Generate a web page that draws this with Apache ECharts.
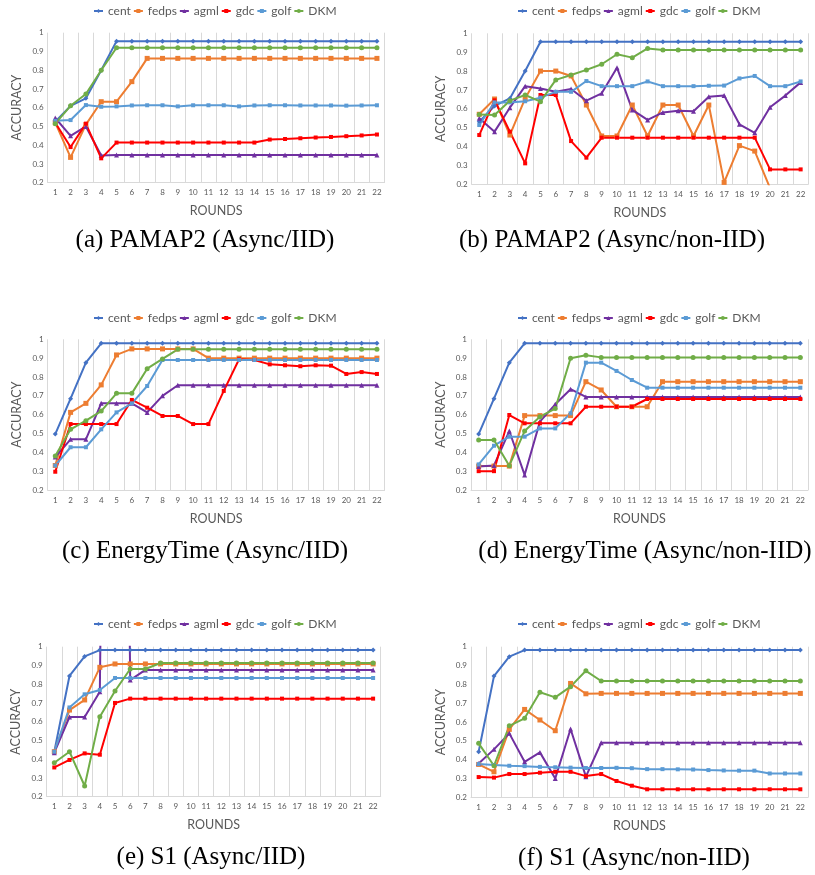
<!DOCTYPE html>
<html><head><meta charset="utf-8">
<script src="https://cdn.jsdelivr.net/npm/echarts@6/dist/echarts.min.js"></script>
<style>html,body{margin:0;padding:0;background:#fff}#c{width:815px;height:875px}</style>
</head><body><div id="c"></div>
<script>
const rounds = ['1','2','3','4','5','6','7','8','9','10','11','12','13','14','15','16','17','18','19','20','21','22'];
const seriesNames = ['cent','fedps','agml','gdc','golf','DKM'];
const captions = ['(a) PAMAP2 (Async/IID)','(b) PAMAP2 (Async/non-IID)','(c) EnergyTime (Async/IID)','(d) EnergyTime (Async/non-IID)','(e) S1 (Async/IID)','(f) S1 (Async/non-IID)'];
const yTicks = ['0.2','0.3','0.4','0.5','0.6','0.7','0.8','0.9','1'];

// (a) PAMAP2 Async/IID
const a_cent  = [0.525,0.61,0.65,0.80,0.955,0.955,0.955,0.955,0.955,0.955,0.955,0.955,0.955,0.955,0.955,0.955,0.955,0.955,0.955,0.955,0.955,0.955];
const a_fedps = [0.52,0.335,0.51,0.632,0.632,0.739,0.863,0.863,0.863,0.863,0.863,0.863,0.863,0.863,0.863,0.863,0.863,0.863,0.863,0.863,0.863,0.863];
const a_agml  = [0.545,0.45,0.50,0.345,0.348,0.348,0.348,0.348,0.348,0.348,0.348,0.348,0.348,0.348,0.348,0.348,0.348,0.348,0.348,0.348,0.348,0.348];
const a_gdc   = [0.52,0.39,0.515,0.33,0.414,0.414,0.414,0.414,0.414,0.414,0.414,0.414,0.414,0.414,0.43,0.433,0.437,0.441,0.444,0.448,0.452,0.457];
const a_golf  = [0.53,0.534,0.614,0.605,0.607,0.612,0.613,0.613,0.607,0.613,0.613,0.613,0.607,0.612,0.613,0.613,0.612,0.612,0.612,0.611,0.612,0.613];
const a_DKM   = [0.515,0.61,0.673,0.80,0.92,0.92,0.92,0.92,0.92,0.92,0.92,0.92,0.92,0.92,0.92,0.92,0.92,0.92,0.92,0.92,0.92,0.92];

// (b) PAMAP2 Async/non-IID
const b_cent  = [0.532,0.615,0.655,0.80,0.955,0.955,0.955,0.955,0.955,0.955,0.955,0.955,0.955,0.955,0.955,0.955,0.955,0.955,0.955,0.955,0.955,0.955];
const b_fedps = [0.571,0.652,0.461,0.655,0.80,0.80,0.774,0.62,0.456,0.456,0.62,0.456,0.62,0.62,0.456,0.62,0.21,0.405,0.376,0.18,0.18,0.18];
const b_agml  = [0.55,0.479,0.606,0.72,0.708,0.69,0.705,0.643,0.682,0.818,0.594,0.541,0.581,0.59,0.587,0.664,0.671,0.518,0.473,0.608,0.67,0.74];
const b_gdc   = [0.461,0.645,0.479,0.311,0.673,0.673,0.429,0.341,0.447,0.447,0.447,0.447,0.447,0.447,0.447,0.447,0.447,0.447,0.447,0.279,0.279,0.279];
const b_golf  = [0.514,0.634,0.634,0.64,0.659,0.69,0.69,0.747,0.72,0.72,0.72,0.745,0.72,0.72,0.72,0.722,0.723,0.761,0.774,0.72,0.72,0.745];
const b_DKM   = [0.57,0.567,0.643,0.673,0.638,0.753,0.779,0.806,0.836,0.889,0.871,0.92,0.912,0.912,0.912,0.912,0.912,0.912,0.912,0.912,0.912,0.912];

// (c) EnergyTime Async/IID
const c_cent  = [0.497,0.685,0.876,0.979,0.979,0.979,0.979,0.979,0.979,0.979,0.979,0.979,0.979,0.979,0.979,0.979,0.979,0.979,0.979,0.979,0.979,0.979];
const c_fedps = [0.33,0.612,0.66,0.758,0.917,0.949,0.949,0.949,0.949,0.949,0.90,0.90,0.90,0.90,0.90,0.90,0.90,0.90,0.90,0.90,0.90,0.90];
const c_agml  = [0.375,0.469,0.469,0.66,0.66,0.66,0.612,0.70,0.756,0.756,0.756,0.756,0.756,0.756,0.756,0.756,0.756,0.756,0.756,0.756,0.756,0.756];
const c_gdc   = [0.297,0.55,0.55,0.55,0.55,0.678,0.637,0.593,0.593,0.55,0.55,0.726,0.894,0.89,0.867,0.862,0.857,0.862,0.86,0.816,0.826,0.816];
const c_golf  = [0.33,0.427,0.427,0.522,0.612,0.66,0.752,0.89,0.89,0.89,0.89,0.89,0.89,0.89,0.89,0.89,0.89,0.89,0.89,0.89,0.89,0.89];
const c_DKM   = [0.38,0.522,0.568,0.619,0.713,0.713,0.844,0.896,0.947,0.947,0.947,0.947,0.947,0.947,0.947,0.947,0.947,0.947,0.947,0.947,0.947,0.947];

// (d) EnergyTime Async/non-IID
const d_cent  = [0.497,0.685,0.876,0.979,0.979,0.979,0.979,0.979,0.979,0.979,0.979,0.979,0.979,0.979,0.979,0.979,0.979,0.979,0.979,0.979,0.979,0.979];
const d_fedps = [0.327,0.327,0.327,0.595,0.595,0.595,0.595,0.775,0.731,0.642,0.642,0.642,0.775,0.775,0.775,0.775,0.775,0.775,0.775,0.775,0.775,0.775];
const d_agml  = [0.325,0.33,0.513,0.28,0.563,0.655,0.735,0.694,0.694,0.694,0.694,0.694,0.694,0.694,0.694,0.694,0.694,0.694,0.694,0.694,0.694,0.694];
const d_gdc   = [0.30,0.30,0.598,0.554,0.554,0.554,0.554,0.642,0.642,0.642,0.642,0.683,0.683,0.683,0.683,0.683,0.683,0.683,0.683,0.683,0.683,0.683];
const d_golf  = [0.336,0.435,0.483,0.483,0.527,0.527,0.607,0.876,0.876,0.832,0.784,0.743,0.743,0.743,0.743,0.743,0.743,0.743,0.743,0.743,0.743,0.743];
const d_DKM   = [0.466,0.466,0.329,0.513,0.589,0.632,0.899,0.915,0.904,0.904,0.904,0.904,0.904,0.904,0.904,0.904,0.904,0.904,0.904,0.904,0.904,0.904];

// (e) S1 Async/IID  (agml round 5 lies far above the plotted range)
const e_cent  = [0.44,0.844,0.948,0.982,0.982,0.982,0.982,0.982,0.982,0.982,0.982,0.982,0.982,0.982,0.982,0.982,0.982,0.982,0.982,0.982,0.982,0.982];
const e_fedps = [0.44,0.662,0.716,0.89,0.908,0.908,0.908,0.908,0.908,0.908,0.908,0.908,0.908,0.908,0.908,0.908,0.908,0.908,0.908,0.908,0.908,0.908];
const e_agml  = [0.435,0.625,0.625,0.76,8,0.822,0.876,0.876,0.876,0.876,0.876,0.876,0.876,0.876,0.876,0.876,0.876,0.876,0.876,0.876,0.876,0.876];
const e_gdc   = [0.356,0.396,0.431,0.424,0.70,0.723,0.723,0.723,0.723,0.723,0.723,0.723,0.723,0.723,0.723,0.723,0.723,0.723,0.723,0.723,0.723,0.723];
const e_golf  = [0.44,0.676,0.746,0.769,0.833,0.833,0.833,0.833,0.833,0.833,0.833,0.833,0.833,0.833,0.833,0.833,0.833,0.833,0.833,0.833,0.833,0.833];
const e_DKM   = [0.381,0.44,0.257,0.627,0.764,0.881,0.881,0.913,0.913,0.913,0.913,0.913,0.913,0.913,0.913,0.913,0.913,0.913,0.913,0.913,0.913,0.913];

// (f) S1 Async/non-IID
const f_cent  = [0.442,0.844,0.947,0.982,0.982,0.982,0.982,0.982,0.982,0.982,0.982,0.982,0.982,0.982,0.982,0.982,0.982,0.982,0.982,0.982,0.982,0.982];
const f_fedps = [0.375,0.336,0.561,0.667,0.611,0.554,0.805,0.75,0.752,0.752,0.752,0.752,0.752,0.752,0.752,0.752,0.752,0.752,0.752,0.752,0.752,0.752];
const f_agml  = [0.38,0.455,0.54,0.389,0.439,0.30,0.563,0.31,0.49,0.49,0.49,0.49,0.49,0.49,0.49,0.49,0.49,0.49,0.49,0.49,0.49,0.49];
const f_gdc   = [0.308,0.305,0.324,0.324,0.331,0.336,0.336,0.313,0.324,0.287,0.262,0.243,0.243,0.243,0.243,0.243,0.243,0.243,0.243,0.243,0.243,0.243];
const f_golf  = [0.377,0.372,0.368,0.366,0.362,0.36,0.358,0.356,0.356,0.357,0.355,0.35,0.35,0.349,0.348,0.345,0.343,0.342,0.342,0.327,0.327,0.327];
const f_DKM   = [0.487,0.368,0.58,0.62,0.758,0.731,0.788,0.872,0.818,0.818,0.818,0.818,0.818,0.818,0.818,0.818,0.818,0.818,0.818,0.818,0.818,0.818];

const panelData = [
  [a_cent,a_fedps,a_agml,a_gdc,a_golf,a_DKM],
  [b_cent,b_fedps,b_agml,b_gdc,b_golf,b_DKM],
  [c_cent,c_fedps,c_agml,c_gdc,c_golf,c_DKM],
  [d_cent,d_fedps,d_agml,d_gdc,d_golf,d_DKM],
  [e_cent,e_fedps,e_agml,e_gdc,e_golf,e_DKM],
  [f_cent,f_fedps,f_agml,f_gdc,f_golf,f_DKM]
];

// styling / layout
const colors  = {cent:'#4472C4', fedps:'#ED7D31', agml:'#7030A0', gdc:'#FF0000', golf:'#5B9BD5', DKM:'#70AD47'};
const symbols = {cent:'diamond', fedps:'rect', agml:'triangle', gdc:'rect', golf:'rect', DKM:'circle'};
const symSize = {cent:5, fedps:5, agml:5, gdc:4, golf:4, DKM:5};
const layout = [
  {left:47.6, top:32.7, width:337, height:150,  legX:88,  legY:0,   capX:205, capY:240},
  {left:471.6,top:33.3, width:336.7,height:151, legX:512, legY:0,   capX:612, capY:240},
  {left:47.6, top:339.3,width:337, height:150.7,legX:88,  legY:307, capX:205, capY:551},
  {left:471,  top:339.3,width:337, height:150.7,legX:512, legY:307, capX:645, capY:551},
  {left:46.7, top:646.7,width:334, height:150,  legX:88,  legY:613, capX:211, capY:857},
  {left:471,  top:646.7,width:337, height:150.7,legX:512, legY:613, capX:634, capY:858}
];
const FONT = 'Lato';
const GRAY = '#595959';

const grid=[], xAxis=[], yAxis=[], legend=[], series=[], graphic=[];
layout.forEach((L,i)=>{
  grid.push({left:L.left, top:L.top, width:L.width, height:L.height, containLabel:false});
  xAxis.push({
    type:'category', gridIndex:i, data:rounds, boundaryGap:true,
    name:'ROUNDS', nameLocation:'middle', nameGap:22,
    nameTextStyle:{fontFamily:FONT, fontSize:12.5, color:GRAY},
    axisLine:{show:true, onZero:false, lineStyle:{color:'#d9d9d9', width:1}},
    axisTick:{show:false},
    axisLabel:{interval:0, margin:6, fontFamily:FONT, fontSize:8, color:GRAY},
    splitLine:{show:true, interval:0, lineStyle:{color:'#d9d9d9', width:1}}
  });
  yAxis.push({
    type:'value', gridIndex:i, min:0.2, max:1, interval:0.1,
    name:'ACCURACY', nameLocation:'middle', nameGap:24,
    nameTextStyle:{fontFamily:FONT, fontSize:12.5, color:GRAY},
    axisLine:{show:false}, axisTick:{show:false}, splitLine:{show:false},
    axisLabel:{margin:4, fontFamily:FONT, fontSize:8, color:GRAY,
      formatter:(v)=>yTicks[Math.round((v-0.2)*10)]}
  });
  legend.push({
    left:L.legX, top:L.legY, orient:'horizontal', data:seriesNames,
    itemWidth:9, itemHeight:5, itemGap:2,
    textStyle:{fontFamily:FONT, fontSize:12, color:GRAY}
  });
  seriesNames.forEach((n,k)=>{
    series.push({
      name:n, type:'line', xAxisIndex:i, yAxisIndex:i, data:panelData[i][k],
      symbol:symbols[n], symbolSize:symSize[n], showSymbol:true, clip:true,
      itemStyle:{color:colors[n]}, lineStyle:{color:colors[n], width:2},
      emphasis:{disabled:true}, animation:false
    });
  });
  graphic.push({
    type:'text', x:L.capX, y:L.capY,
    style:{text:captions[i], fontFamily:'Liberation Serif', fontSize:25, fill:'#000',
      align:'center', verticalAlign:'middle', textAlign:'center', textVerticalAlign:'middle'}
  });
});

const chart = echarts.init(document.getElementById('c'), null, {renderer:'canvas'});
chart.setOption({backgroundColor:'#fff', animation:false, grid, xAxis, yAxis, legend, series, graphic});
</script>
</body></html>
